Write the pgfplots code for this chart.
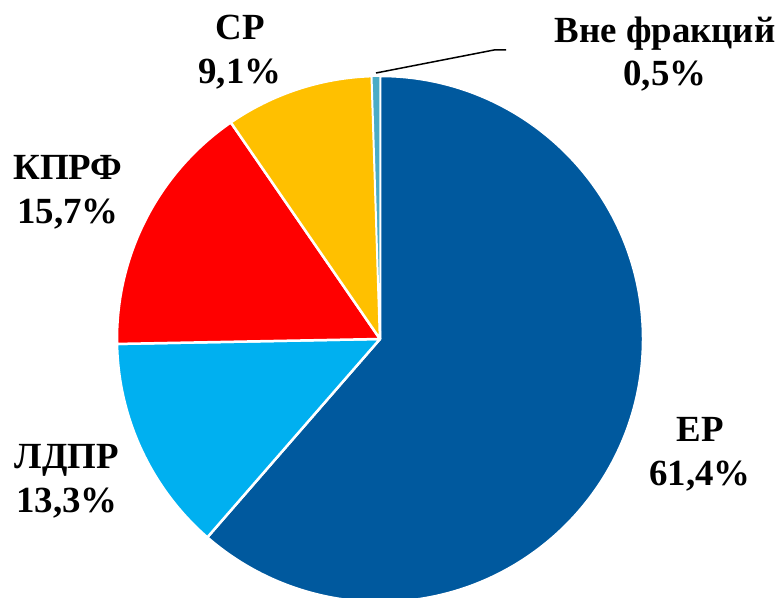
\documentclass[border=0pt]{standalone}
\usepackage{pgfplots}
\pgfplotsset{compat=1.18}
\usepackage{fontspec}
\setmainfont{Liberation Serif}
\newfontfamily\lblfont{Liberation Serif Bold}

\definecolor{cER}{HTML}{00599E}
\definecolor{cLDPR}{HTML}{00B0F0}
\definecolor{cKPRF}{HTML}{FF0000}
\definecolor{cSR}{HTML}{FFC000}
\definecolor{cVne}{HTML}{4BACC6}

\tikzset{
	slice/.style={draw=white, line width=2.5bp, line join=round},
	lbl/.style={align=center, inner sep=0pt, font=\lblfont\fontsize{37}{44}\selectfont},
}

% shares, %
\def\vER{61.4}
\def\vLDPR{13.3}
\def\vKPRF{15.7}
\def\vSR{9.1}
\def\vVne{0.5}

\begin{document}
\begin{tikzpicture}
\pgfmathsetmacro{\aA}{90}
\pgfmathsetmacro{\aB}{\aA-3.6*\vER}
\pgfmathsetmacro{\aC}{\aB-3.6*\vLDPR}
\pgfmathsetmacro{\aD}{\aC-3.6*\vKPRF}
\pgfmathsetmacro{\aE}{\aD-3.6*\vSR}
\pgfmathsetmacro{\aF}{\aE-3.6*\vVne}
\def\R{263}
\begin{axis}[
	scale only axis,
	width=780bp, height=597bp,
	xmin=-380, xmax=400,
	ymin=-258, ymax=339,
	hide axis,
	clip=true,
]
	\addplot[slice, fill=cER, data cs=polar] coordinates {(0,0) (\aA,\R)}
		arc[start angle=\aA, end angle=\aB, radius=\R bp] -- cycle;
	\addplot[slice, fill=cLDPR, data cs=polar] coordinates {(0,0) (\aB,\R)}
		arc[start angle=\aB, end angle=\aC, radius=\R bp] -- cycle;
	\addplot[slice, fill=cKPRF, data cs=polar] coordinates {(0,0) (\aC,\R)}
		arc[start angle=\aC, end angle=\aD, radius=\R bp] -- cycle;
	\addplot[slice, fill=cSR, data cs=polar] coordinates {(0,0) (\aD,\R)}
		arc[start angle=\aD, end angle=\aE, radius=\R bp] -- cycle;
	\addplot[slice, line width=1.5bp, fill=cVne, data cs=polar] coordinates {(0,0) (\aE,\R)}
		arc[start angle=\aE, end angle=\aF, radius=\R bp] -- cycle;

	% leader line
	\addplot[black, line width=1.5bp] coordinates {(-4,266) (114,289) (126,289)};

	\node[lbl] at (axis cs:-140,287) {СР\\9,1\%};
	\node[lbl] at (axis cs:285,285) {Вне фракций\\0,5\%};
	\node[lbl] at (axis cs:-312,147) {КПРФ\\15,7\%};
	\node[lbl] at (axis cs:-313,-142) {ЛДПР\\13,3\%};
	\node[lbl] at (axis cs:320,-115) {ЕР\\61,4\%};
\end{axis}
\pgfresetboundingbox
\path[use as bounding box] (current axis.south west) rectangle (current axis.north east);
\end{tikzpicture}
\end{document}
